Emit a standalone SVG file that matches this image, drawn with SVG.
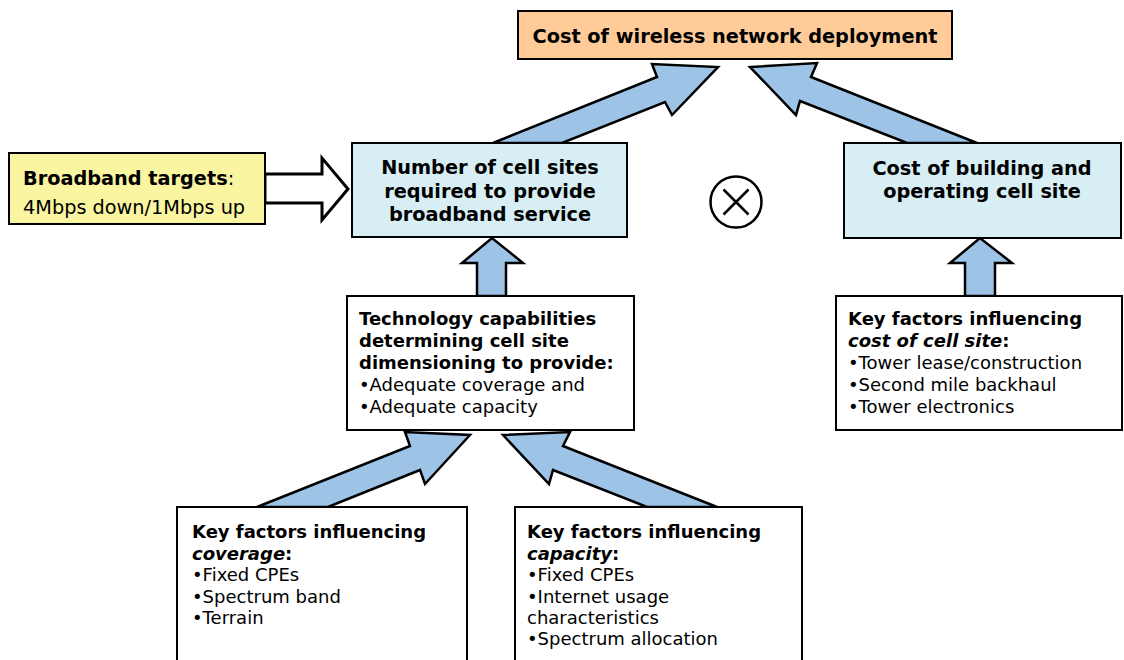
<svg xmlns="http://www.w3.org/2000/svg" width="1124" height="660" viewBox="0 0 1124 660">
  <style>
    text { font-family: "DejaVu Sans", Verdana, sans-serif; fill: #000; }
    .box { stroke: #000; stroke-width: 2; }
    .head { font-size: 19.3px; font-weight: bold; text-anchor: middle; }
    .t { font-size: 18px; }
    .b { font-weight: bold; }
    .bi { font-weight: bold; font-style: italic; }
    .fat { fill: #9DC3E6; stroke: #000; stroke-width: 2.5; stroke-linejoin: miter; }
    .hollow { fill: #fff; stroke: #000; stroke-width: 3; stroke-linejoin: miter; }
  </style>
  <rect width="1124" height="660" fill="#fff"/>

  <!-- connectors (drawn first so boxes sit on top of the arrow bases) -->
  <g id="connectors">
    <!-- cell sites -> deployment cost -->
    <polygon class="fat" points="493,143 657,77 652,64 718,67 672,115 665,102 562,143"/>
    <!-- cost per site -> deployment cost -->
    <polygon class="fat" points="977,143 811,77 817,63 750,67 796,115 800,101 907,143"/>
    <!-- technology -> cell sites -->
    <polygon class="fat" points="477,296 477,263 462,263 492,238 523,263 506,263 506,296"/>
    <!-- site factors -> cost per site -->
    <polygon class="fat" points="965,296 965,263 950,263 980,238 1012,263 995,263 995,296"/>
    <!-- coverage -> technology -->
    <polygon class="fat" points="257,507 410,446 405,432 470,435 425,484 420,470 328,507"/>
    <!-- capacity -> technology -->
    <polygon class="fat" points="717,507 563,446 570,432 503,435 549,484 553,470 647,507"/>
    <!-- broadband targets -> cell sites -->
    <polygon class="hollow" points="265,174 322,174 322,158 348,189 322,220 322,203 265,203"/>
  </g>

  <g id="deployment-cost">
    <rect class="box" x="518" y="11" width="434" height="48" fill="#FFCC99"/>
    <text class="head" x="735" y="43">Cost of wireless network deployment</text>
  </g>

  <g id="broadband-targets">
    <rect class="box" x="9" y="153" width="256" height="71" fill="#FAF5A0"/>
    <text x="23" y="185" style="font-size:19.3px"><tspan class="b">Broadband targets</tspan>:</text>
    <text x="23" y="214" style="font-size:19.3px">4Mbps down/1Mbps up</text>
  </g>

  <g id="cell-sites">
    <rect class="box" x="352" y="143" width="275" height="94" fill="#D6EEF4"/>
    <text class="head" x="490" y="174">Number of cell sites</text>
    <text class="head" x="490" y="197.5">required to provide</text>
    <text class="head" x="490" y="221">broadband service</text>
  </g>

  <g id="multiply">
    <circle cx="736" cy="202" r="25.5" fill="none" stroke="#000" stroke-width="2.5"/>
    <path d="M723.5 189.5 L748.5 214.5 M748.5 189.5 L723.5 214.5" stroke="#000" stroke-width="2.5"/>
  </g>

  <g id="site-cost">
    <rect class="box" x="844" y="143" width="277" height="95" fill="#D6EEF4"/>
    <text class="head" x="982" y="175">Cost of building and</text>
    <text class="head" x="982" y="198">operating cell site</text>
  </g>

  <g id="technology">
    <rect class="box" x="347" y="296" width="287" height="134" fill="#fff"/>
    <text class="t b" x="359" y="325">Technology capabilities</text>
    <text class="t b" x="359" y="347">determining cell site</text>
    <text class="t b" x="359" y="369">dimensioning to provide:</text>
    <text class="t" x="359" y="391">•Adequate coverage and</text>
    <text class="t" x="359" y="413">•Adequate capacity</text>
  </g>

  <g id="site-factors">
    <rect class="box" x="836" y="296" width="286" height="134" fill="#fff"/>
    <text class="t b" x="848" y="325">Key factors influencing</text>
    <text class="t" x="848" y="347"><tspan class="bi">cost of cell site</tspan><tspan class="b">:</tspan></text>
    <text class="t" x="848" y="369">•Tower lease/construction</text>
    <text class="t" x="848" y="391">•Second mile backhaul</text>
    <text class="t" x="848" y="413">•Tower electronics</text>
  </g>

  <g id="coverage-factors">
    <rect class="box" x="177" y="507" width="290" height="165" fill="#fff"/>
    <text class="t b" x="192" y="538">Key factors influencing</text>
    <text class="t" x="192" y="560"><tspan class="bi">coverage</tspan><tspan class="b">:</tspan></text>
    <text class="t" x="192" y="581">•Fixed CPEs</text>
    <text class="t" x="192" y="603">•Spectrum band</text>
    <text class="t" x="192" y="624">•Terrain</text>
  </g>

  <g id="capacity-factors">
    <rect class="box" x="515" y="507" width="287" height="165" fill="#fff"/>
    <text class="t b" x="527" y="538">Key factors influencing</text>
    <text class="t" x="527" y="560"><tspan class="bi">capacity</tspan><tspan class="b">:</tspan></text>
    <text class="t" x="527" y="581">•Fixed CPEs</text>
    <text class="t" x="527" y="603">•Internet usage</text>
    <text class="t" x="527" y="624">characteristics</text>
    <text class="t" x="527" y="645">•Spectrum allocation</text>
  </g>
</svg>
